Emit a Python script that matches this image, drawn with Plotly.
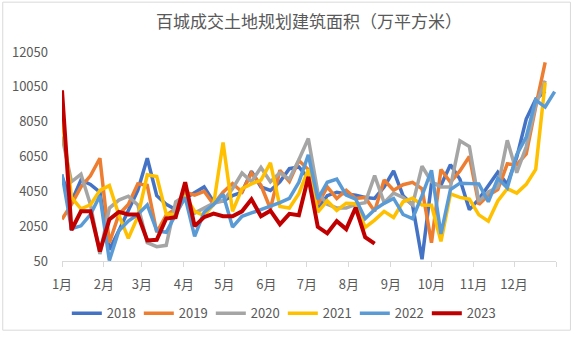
import pandas as pd
import plotly.graph_objects as go

title_text = "百城成交土地规划建筑面积（万平方米）"
years = ["2018", "2019", "2020", "2021", "2022", "2023"]
colors = ["#4472C4", "#ED7D31", "#A5A5A5", "#FFC000", "#5B9BD5", "#C00000"]

v2018 = [4900, 3460, 4700, 4450, 4000, 700, 1790, 2900, 4100, 5950, 3800, 3300, 3000,
         3650, 4000, 4300, 3460, 3500, 3800, 4000, 5200, 4300, 4100, 4600, 5350, 5450,
         4800, 3050, 3800, 4000, 3900, 3830, 3700, 3640, 4300, 5220, 3800, 3270, 150,
         4500, 4400, 5580, 4750, 3000, 3600, 4400, 5150, 4450, 6000, 8200, 9330, 9800]
v2019 = [2440, 3300, 4300, 4940, 5950, 1100, 2720, 3300, 4480, 4400, 1700, 2680, 3050,
         4000, 3830, 4050, 3300, 4000, 4500, 4010, 5100, 4400, 3050, 5260, 4620, 5820,
         5300, 3300, 4300, 3640, 4110, 3640, 3700, 2900, 4700, 4110, 4430, 4570, 4200,
         1100, 5300, 4570, 5220, 6050, 3300, 3830, 4150, 5630, 5580, 6200, 8900, 11450]
v2020 = [7200, 4600, 5030, 3300, 450, 3090, 3550, 3770, 3270, 1100, 870, 950, 3450,
         3800, 2800, 3100, 3370, 3500, 4200, 5100, 4600, 5420, 4600, 5120, 4750, 5860,
         7080, 4000, 3300, 3100, 3100, 3300, 3400, 4950, 3400, 3950, 3700, 3270, 5490,
         4600, 4300, 4300, 6950, 6620, 3460, 4010, 4300, 6980, 5120, 6610, 9000, 10400]
v2021 = [8300, 3700, 3050, 3270, 4100, 4380, 2700, 1350, 2600, 5000, 4900, 2750, 2700,
         3800, 2900, 2650, 3300, 6850, 2900, 4200, 4480, 4700, 5680, 3180, 3090, 3920,
         5310, 2850, 3500, 2950, 3370, 3340, 1980, 2400, 2900, 2550, 3450, 3660, 3270,
         3250, 1180, 3900, 3700, 3600, 2700, 2340, 3500, 4200, 3950, 4450, 5310, 10300]
v2022 = [5030, 1900, 2070, 2720, 3800, 80, 1790, 2340, 2720, 3270, 1790, 1700, 2720,
         3700, 1460, 2850, 3300, 3880, 2000, 2620, 2810, 3000, 3180, 3400, 3640, 4570,
         6140, 3600, 4570, 4750, 3830, 3600, 2480, 3000, 3360, 3640, 2720, 2480, 3800,
         5260, 1600, 4150, 4520, 4520, 4480, 3450, 4800, 4250, 6150, 7170, 9290, 8890, 9770]
v2023 = [9850, 1830, 2900, 2900, 600, 2440, 2870, 2720, 2720, 1230, 1270, 2490, 2570,
         4570, 2050, 2570, 2770, 2620, 2620, 2900, 3590, 2620, 2940, 2160, 2760, 2680,
         4880, 2010, 1640, 2340, 1880, 3120, 1420, 1050]

month_labels = ["1月", "2月", "3月", "4月", "5月", "6月", "7月", "8月", "9月", "10月", "11月", "12月", ""]
y_ticks = [50, 2050, 4050, 6050, 8050, 10050, 12050]

series = [v2018, v2019, v2020, v2021, v2022, v2023]
week_dates = pd.date_range("2001-01-01", periods=53, freq="7D")
month_starts = pd.date_range("2001-01-01", periods=13, freq="MS")

fig = go.Figure()
for name, col, vals in zip(years, colors, series):
    fig.add_trace(go.Scatter(
        x=week_dates[:len(vals)], y=vals, name=name, mode="lines",
        line=dict(color=col, width=4 if name == "2023" else 3.5),
    ))

W, H = 571, 340
ml, mr, mt, mb = 60, 15, 52, 72
pw, ph = W - ml - mr, H - mt - mb

fig.update_layout(
    width=W, height=H,
    margin=dict(l=ml, r=mr, t=mt, b=mb),
    paper_bgcolor="white", plot_bgcolor="white",
    font=dict(family="Noto Sans CJK SC, sans-serif", color="#595959", size=13),
    title=dict(text=title_text, x=0.5, xref="paper", y=1 - 22 / H, yanchor="middle",
               font=dict(size=17, color="#595959")),
    showlegend=True,
    legend=dict(orientation="h", x=0.447, xanchor="center", y=-54 / ph, yanchor="middle",
                font=dict(size=13, color="#595959"), traceorder="normal",
                entrywidth=27, entrywidthmode="pixels", itemwidth=30),
    xaxis=dict(type="date", range=[month_starts[0], month_starts[-1]],
               tickmode="array", tickvals=list(month_starts), ticktext=month_labels,
               ticks="outside", ticklen=5, tickcolor="#D9D9D9", showline=True,
               linecolor="#D9D9D9", linewidth=1, showgrid=False, zeroline=False,
               ticklabelstandoff=6, tickfont=dict(size=13)),
    yaxis=dict(range=[50, 12050], tickmode="array", tickvals=y_ticks,
               ticktext=[str(v) for v in y_ticks],
               showgrid=False, zeroline=False, showline=False, ticks="",
               ticklabelstandoff=13, tickfont=dict(size=13)),
)

fig.add_shape(type="rect", xref="paper", yref="paper",
              x0=-(ml - 0.5) / pw, x1=(W - ml - 0.5) / pw,
              y0=-(mb - 0.5) / ph, y1=1 + (mt - 0.5) / ph,
              line=dict(color="#D9D9D9", width=1), layer="below")

fig.write_html("out.html")
